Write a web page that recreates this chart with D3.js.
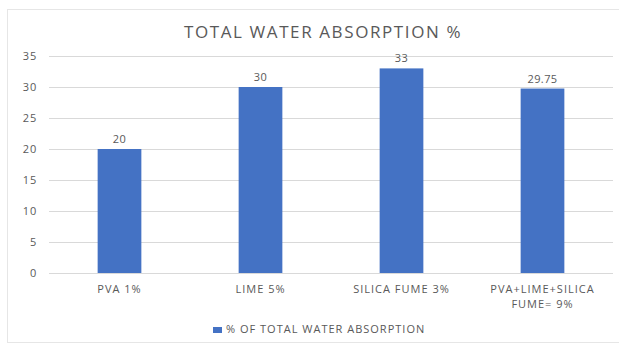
<!DOCTYPE html>
<html>
<head>
<meta charset="utf-8">
<script src="https://cdn.jsdelivr.net/npm/d3@7"></script>
<style>
body { margin: 0; background: #fff; }
text { font-family: "Open Sans", "Noto Sans", sans-serif; fill: #595959; }
</style>
</head>
<body>
<div class="main"></div>
<script>
// chart data
var categories = ["PVA 1%", "LIME 5%", "SILICA FUME 3%", "PVA+LIME+SILICA|FUME= 9%"];
var values = [20, 30, 33, 29.75];
var valueLabels = ["20", "30", "33", "29.75"];
var yTicks = [0, 5, 10, 15, 20, 25, 30, 35];
var seriesName = "% OF TOTAL WATER ABSORPTION";

var W = 619, H = 345;
var margin = {top: 56, right: 6, bottom: 72, left: 49};
var width = W - margin.left - margin.right;
var height = H - margin.top - margin.bottom;

var svg = d3.select(".main")
	.append("svg")
	.attr("width", W)
	.attr("height", H);

// chart border
svg.append("rect")
	.attr("x", 7.5).attr("y", 9.5)
	.attr("width", W - 7).attr("height", H - 12)
	.attr("fill", "none")
	.attr("stroke", "#e6e6e6");

svg.append("text")
	.attr("x", 323).attr("y", 38)
	.attr("text-anchor", "middle")
	.style("font-size", "17px")
	.style("letter-spacing", "1.6px")
	.text("TOTAL WATER ABSORPTION %");

var g = svg.append("g")
	.attr("transform", "translate(" + margin.left + "," + margin.top + ")");

var xScale = d3.scaleBand()
	.domain(categories)
	.range([0, width])
	.paddingInner(0.69)
	.paddingOuter(0.345);
var yScale = d3.scaleLinear()
	.domain([0, 35])
	.range([height, 0]);

// gridlines
g.selectAll(".grid")
	.data(yTicks)
	.enter()
	.append("line")
	.attr("x1", 0).attr("x2", width)
	.attr("y1", function(d) { return Math.round(yScale(d)) + 0.5; })
	.attr("y2", function(d) { return Math.round(yScale(d)) + 0.5; })
	.attr("stroke", "#d9d9d9");

// y axis labels
var yAxis = d3.axisLeft(yScale).tickValues(yTicks).tickSize(0).tickPadding(12);
g.append("g")
	.call(yAxis)
	.call(function(s) { s.select(".domain").remove(); })
	.selectAll("text")
	.style("font-size", "11px")
	.style("letter-spacing", "0.8px")
	.style("fill", "#595959");

// bars
g.selectAll(".bar")
	.data(values)
	.enter()
	.append("rect")
	.attr("x", function(d, i) { return xScale(categories[i]); })
	.attr("y", function(d) { return yScale(d); })
	.attr("width", xScale.bandwidth())
	.attr("height", function(d) { return height - yScale(d); })
	.attr("fill", "#4472c4");

// value labels
g.selectAll(".val")
	.data(values)
	.enter()
	.append("text")
	.attr("x", function(d, i) { return xScale(categories[i]) + xScale.bandwidth() / 2; })
	.attr("y", function(d) { return yScale(d) - 6; })
	.attr("text-anchor", "middle")
	.style("font-size", "11px")
	.style("letter-spacing", "0.4px")
	.text(function(d, i) { return valueLabels[i]; });

// category labels
var xAxis = d3.axisBottom(xScale).tickSize(0).tickPadding(0).tickFormat("");
g.append("g")
	.attr("transform", "translate(0," + height + ")")
	.call(xAxis)
	.call(function(s) { s.select(".domain").remove(); });

categories.forEach(function(c, i) {
	var lines = c.split("|");
	var t = g.append("text")
		.attr("x", xScale(c) + xScale.bandwidth() / 2)
		.attr("y", height + 20)
		.attr("text-anchor", "middle")
		.style("font-size", "11px")
		.style("letter-spacing", "1px");
	lines.forEach(function(l, j) {
		t.append("tspan")
			.attr("x", xScale(c) + xScale.bandwidth() / 2)
			.attr("dy", j == 0 ? 0 : 15)
			.text(l);
	});
});

// legend
var legend = svg.append("g").attr("transform", "translate(213," + 333 + ")");
legend.append("rect")
	.attr("x", 0).attr("y", -6)
	.attr("width", 9).attr("height", 6)
	.attr("fill", "#4472c4");
legend.append("text")
	.attr("x", 13).attr("y", 0)
	.style("font-size", "11px")
	.style("letter-spacing", "1px")
	.text(seriesName);
</script>
</body>
</html>
